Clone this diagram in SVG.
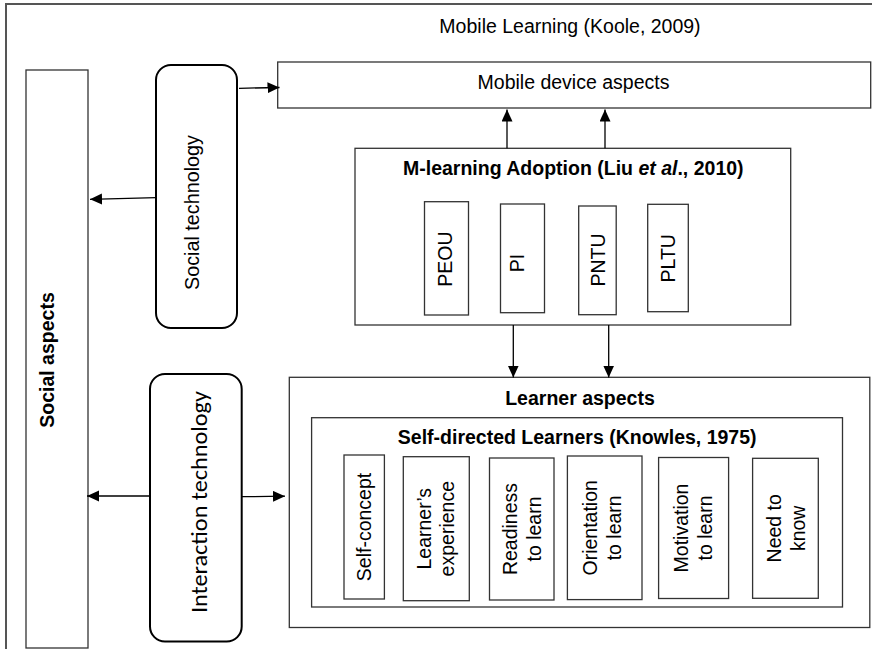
<svg xmlns="http://www.w3.org/2000/svg" width="872" height="649" viewBox="0 0 872 649">
<style>
.frame{fill:none;stroke:#555;stroke-width:2}
.box{fill:#fff;stroke:#333;stroke-width:1.3}
.rbox{fill:#fff;stroke:#000;stroke-width:2}
.t{font-family:"Liberation Sans",Arial,sans-serif;font-size:19.5px;fill:#000}
.b{font-weight:bold}
.c{text-anchor:middle}
.conn{fill:none;stroke:#000;stroke-width:1.3}
.it{font-family:Carlito,Lato,"Liberation Sans",sans-serif;font-size:23px;fill:#000}
</style>
<defs>
<marker id="arr" markerUnits="userSpaceOnUse" markerWidth="13" markerHeight="12" refX="12" refY="5.5" orient="auto">
<path d="M0,0 L12,5.5 L0,11 z" fill="#000"/>
</marker>
</defs>
<rect width="872" height="649" fill="#fff"/>
<path class="frame" d="M6,649 V4 H872"/>
<text class="t c" x="570" y="33">Mobile Learning (Koole, 2009)</text>

<g id="social-aspects">
<rect class="box" x="26" y="70" width="62" height="578"/>
<text class="t b c" x="53.5" y="360" transform="rotate(-90 53.5 360)">Social aspects</text>
</g>

<g id="social-technology">
<rect class="rbox" x="156" y="65" width="81" height="263" rx="15"/>
<text class="t c" x="198.5" y="212.5" transform="rotate(-90 198.5 212.5)" textLength="155" lengthAdjust="spacingAndGlyphs">Social technology</text>
</g>

<g id="interaction-technology">
<rect class="rbox" x="150" y="374" width="91.7" height="267.5" rx="15"/>
<text class="it c" x="207" y="502" transform="rotate(-90 207 502)" textLength="222" lengthAdjust="spacingAndGlyphs">Interaction technology</text>
</g>

<g id="mobile-device">
<rect class="box" x="277.7" y="62" width="593" height="46"/>
<text class="t c" x="573.5" y="89">Mobile device aspects</text>
</g>

<g id="m-learning">
<rect class="box" x="355" y="148.3" width="435.7" height="176.7"/>
<text class="t b c" x="573.3" y="175">M-learning Adoption (Liu <tspan font-style="italic">et al</tspan>., 2010)</text>
<g id="peou">
<rect class="box" x="424.5" y="201.7" width="44" height="113.3"/>
<text class="t c" x="451.5" y="259" transform="rotate(-90 451.5 259)">PEOU</text>
</g>
<g id="pi">
<rect class="box" x="500.5" y="204" width="44" height="108.7"/>
<text class="t c" x="524.3" y="263" transform="rotate(-90 524.3 263)">PI</text>
</g>
<g id="pntu">
<rect class="box" x="578.7" y="206" width="37.5" height="108.7"/>
<text class="t c" x="605" y="260" transform="rotate(-90 605 260)">PNTU</text>
</g>
<g id="pltu">
<rect class="box" x="647.7" y="204.3" width="40.6" height="107.4"/>
<text class="t c" x="675" y="258.3" transform="rotate(-90 675 258.3)">PLTU</text>
</g>
</g>

<g id="learner-aspects">
<rect class="box" x="289.3" y="377.3" width="580.5" height="250.2"/>
<text class="t b c" x="580" y="405">Learner aspects</text>
</g>

<g id="self-directed">
<rect class="box" x="311.6" y="417.7" width="530.9" height="189.3"/>
<text class="t b c" x="577.2" y="444">Self-directed Learners (Knowles, 1975)</text>
<g id="self-concept">
<rect class="box" x="344" y="455" width="40.4" height="144"/>
<text class="t c" x="370.7" y="527" transform="rotate(-90 370.7 527)">Self-concept</text>
</g>
<g id="experience">
<rect class="box" x="403.3" y="456.7" width="66" height="144"/>
<text class="t c" transform="rotate(-90 431 528.7)" x="431" y="528.7">Learner’s</text>
<text class="t c" transform="rotate(-90 454 528.7)" x="454" y="528.7">experience</text>
</g>
<g id="readiness">
<rect class="box" x="489.5" y="458" width="64.5" height="142"/>
<text class="t c" transform="rotate(-90 517 529)" x="517" y="529">Readiness</text>
<text class="t c" transform="rotate(-90 541 529)" x="541" y="529">to learn</text>
</g>
<g id="orientation">
<rect class="box" x="567.4" y="456" width="74.6" height="143.6"/>
<text class="t c" transform="rotate(-90 597 527.8)" x="597" y="527.8">Orientation</text>
<text class="t c" transform="rotate(-90 621 527.8)" x="621" y="527.8">to learn</text>
</g>
<g id="motivation">
<rect class="box" x="658.6" y="457.5" width="70" height="141"/>
<text class="t c" transform="rotate(-90 688 528)" x="688" y="528">Motivation</text>
<text class="t c" transform="rotate(-90 712 528)" x="712" y="528">to learn</text>
</g>
<g id="need-to-know">
<rect class="box" x="752.6" y="458.3" width="65.7" height="140"/>
<text class="t c" transform="rotate(-90 781 528.3)" x="781" y="528.3">Need to</text>
<text class="t c" transform="rotate(-90 805 528.3)" x="805" y="528.3">know</text>
</g>
</g>

<g id="connectors">
<path class="conn" d="M156,197.7 L90,199.3" marker-end="url(#arr)"/>
<path class="conn" d="M239,88.3 L279.5,87.5" marker-end="url(#arr)"/>
<path class="conn" d="M507,148.3 L507,109.5" marker-end="url(#arr)"/>
<path class="conn" d="M605,148.3 L605,109.5" marker-end="url(#arr)"/>
<path class="conn" d="M513.3,325 L513.3,377.5" marker-end="url(#arr)"/>
<path class="conn" d="M608.7,325 L608.7,377.5" marker-end="url(#arr)"/>
<path class="conn" d="M150,496 L87,496" marker-end="url(#arr)"/>
<path class="conn" d="M241.7,496.7 L285,496.2" marker-end="url(#arr)"/>
</g>
</svg>
